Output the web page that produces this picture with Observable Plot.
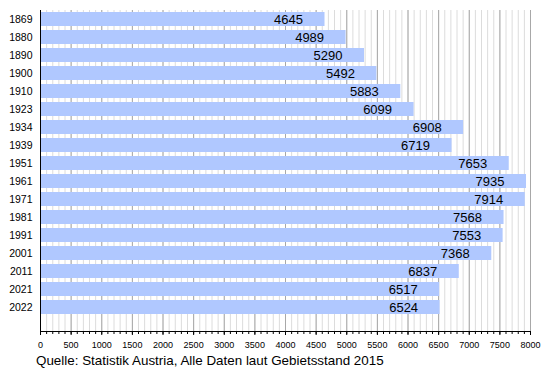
<!DOCTYPE html>
<html>
<head>
<meta charset="utf-8">
<script src="https://cdn.jsdelivr.net/npm/d3@7"></script>
<script src="https://cdn.jsdelivr.net/npm/@observablehq/plot@0.6"></script>
<style>
  body { margin: 0; background: #fff; font-family: "Liberation Sans", Arial, sans-serif; }
  #wrap { position: relative; width: 550px; height: 370px; }
  #caption { position: absolute; left: 36px; top: 353px; font-size: 13.4px; line-height: 15px; color: #000; white-space: nowrap; }
</style>
</head>
<body>
<div id="wrap">
  <div id="chart"></div>
  <div id="caption">Quelle: Statistik Austria, Alle Daten laut Gebietsstand 2015</div>
</div>
<script>
const years = ["1869","1880","1890","1900","1910","1923","1934","1939","1951","1961","1971","1981","1991","2001","2011","2021","2022"];
const population = [4645,4989,5290,5492,5883,6099,6908,6719,7653,7935,7914,7568,7553,7368,6837,6517,6524];
const majorTicks = [0,500,1000,1500,2000,2500,3000,3500,4000,4500,5000,5500,6000,6500,7000,7500,8000];
const minorTicks = d3.range(0, 8001, 100);

const data = years.map((y, i) => ({year: y, value: population[i]}));

const W = 550, H = 352, MT = 10, MB = 21;
const chart = Plot.plot({
  width: W,
  height: H,
  marginLeft: 40,
  marginRight: 20,
  marginTop: MT,
  marginBottom: MB,
  style: {fontFamily: "'Liberation Sans', Arial, sans-serif", background: "#fff", color: "#000"},
  x: {domain: [0, 8000]},
  y: {domain: years, paddingInner: 0.2, paddingOuter: 0.137, align: 0.13},
  marks: [
    Plot.ruleX(minorTicks, {stroke: "#dcdcdc", strokeWidth: 1}),
    Plot.ruleX(majorTicks, {stroke: "#a8a8a8", strokeWidth: 1}),
    Plot.barX(data, {x: "value", y: "year", fill: "#b0c8ff"}),
    Plot.text(data, {x: "value", y: "year", text: d => String(d.value), textAnchor: "end", dx: -22, fontSize: 13, fill: "#000"}),
    Plot.axisY({tickSize: 0, tickPadding: 8, fontSize: 10.5, label: null}),
    // minor tick marks below the axis line (no labels)
    Plot.ruleX(minorTicks, {stroke: "#000", insetTop: H - MT - MB, insetBottom: -3}),
    Plot.axisX({ticks: majorTicks, tickSize: 4, tickPadding: 6, fontSize: 9, tickFormat: d => String(d), label: null}),
    Plot.ruleX([0], {stroke: "#000"}),
    Plot.frame({anchor: "bottom", stroke: "#000"})
  ]
});
document.getElementById("chart").appendChild(chart);
</script>
</body>
</html>
